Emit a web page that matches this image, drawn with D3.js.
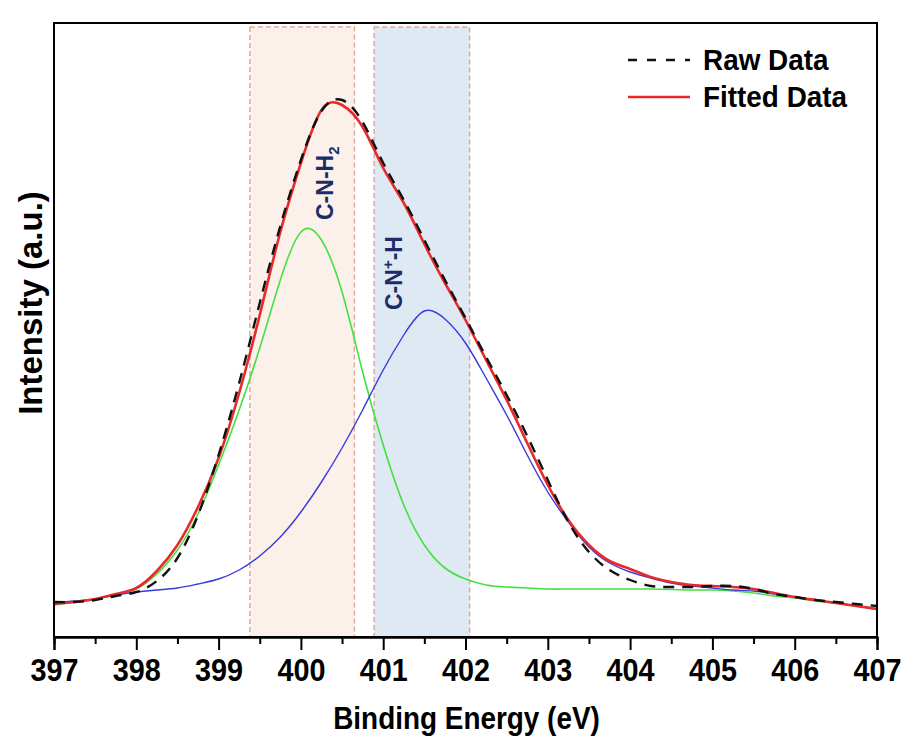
<!DOCTYPE html>
<html>
<head>
<meta charset="utf-8">
<script src="https://cdn.jsdelivr.net/npm/d3@7"></script>
<style>
  html, body { margin: 0; padding: 0; background: #ffffff; }
  svg { display: block; }
  text { font-family: "Liberation Sans", Arial, sans-serif; font-weight: bold; }
</style>
</head>
<body>
<svg id="chart" width="904" height="739"></svg>
<script>
// N 1s spectrum: binding energy grid (eV)
const energy = [
  397.00, 397.25, 397.50, 397.75, 398.00, 398.25, 398.50, 398.75,
  399.00, 399.25, 399.50, 399.75, 400.00, 400.25, 400.50, 400.75,
  401.00, 401.25, 401.50, 401.75, 402.00, 402.25, 402.50, 402.75,
  403.00, 403.25, 403.50, 403.75, 404.00, 404.25, 404.50, 404.75,
  405.00, 405.25, 405.50, 405.75, 406.00, 406.25, 406.50, 406.75, 407.00
];

// Measured intensity (a.u.)
const rawData = [
  700, 700, 740, 820, 900, 1120, 1580, 2440,
  3640, 5080, 6680, 8220, 9540, 10520, 10740, 10300,
  9480, 8740, 7940, 7140, 6380, 5600, 4840, 4020,
  3140, 2300, 1700, 1340, 1140, 1020, 1000, 1000,
  1020, 1020, 960, 860, 800, 740, 700, 660, 620
];

// Envelope of the peak fit (a.u.)
const fittedData = [
  660, 700, 760, 860, 980, 1320, 1840, 2600,
  3580, 4880, 6440, 8100, 9480, 10540, 10640, 10200,
  9380, 8680, 7860, 7080, 6340, 5540, 4740, 3880,
  3040, 2340, 1840, 1520, 1360, 1200, 1100, 1040,
  1020, 1000, 960, 880, 800, 740, 680, 620, 560
];

// C-N-H2 component (a.u.)
const peakNH2 = [
  640, 700, 760, 840, 960, 1260, 1740, 2460,
  3440, 4540, 5780, 7140, 8100, 7940, 6900, 5300,
  3840, 2640, 1840, 1380, 1160, 1040, 1000, 980,
  960, 960, 960, 960, 960, 960, 950, 940,
  940, 920, 880, 820, 780, 720, 680, 620, 560
];

// C-N+-H component (a.u.)
const peakNH = [
  680, 720, 760, 840, 900, 940, 980, 1060,
  1160, 1340, 1620, 2000, 2500, 3100, 3780, 4540,
  5340, 6040, 6520, 6360, 5880, 5180, 4440, 3640,
  2900, 2300, 1800, 1480, 1300, 1180, 1080, 1020,
  980, 940, 920, 860, 800, 740, 680, 620, 560
];

const xTicks = [397, 398, 399, 400, 401, 402, 403, 404, 405, 406, 407];
const xMinorTicks = [397.5, 398.5, 399.5, 400.5, 401.5, 402.5, 403.5, 404.5, 405.5, 406.5];

// Highlighted binding-energy windows
const bandStart = [399.38, 400.89];
const bandEnd = [400.65, 402.05];

const legendLabels = ["Raw Data", "Fitted Data"];

// ---- layout ----
const plot = { left: 54, right: 877, top: 23, bottom: 637 };
const svg = d3.select("#chart");

const x = d3.scaleLinear().domain([397, 407]).range([plot.left, plot.right]);
const y = d3.scaleLinear().domain([0, 12280]).range([plot.bottom, plot.top]);

// shaded windows
const bandFill = ["#fcf0ea", "#dfe9f4"];
svg.append("g").selectAll("rect")
  .data(bandStart.map((s, i) => ({ s, e: bandEnd[i], i })))
  .join("rect")
  .attr("x", d => x(d.s))
  .attr("y", plot.top + 4)
  .attr("width", d => x(d.e) - x(d.s))
  .attr("height", plot.bottom - plot.top - 4)
  .attr("fill", d => bandFill[d.i])
  .attr("stroke", "#e3a898")
  .attr("stroke-width", 1.5)
  .attr("stroke-dasharray", "5,3");

const line = series => d3.line()
  .x((d, i) => x(energy[i]))
  .y(d => y(d))
  .curve(d3.curveNatural)(series);

const curves = svg.append("g");
curves.append("path").attr("d", line(peakNH2))
  .attr("fill", "none").attr("stroke", "#44e040").attr("stroke-width", 1.6);
curves.append("path").attr("d", line(peakNH))
  .attr("fill", "none").attr("stroke", "#3a3ad8").attr("stroke-width", 1.4);
curves.append("path").attr("d", line(fittedData))
  .attr("fill", "none").attr("stroke", "#e82a2a").attr("stroke-width", 2.6);
curves.append("path").attr("d", line(rawData))
  .attr("fill", "none").attr("stroke", "#111111").attr("stroke-width", 2.4)
  .attr("stroke-dasharray", "11,8");

// component labels
const nh2 = svg.append("text")
  .attr("transform", `translate(${x(400.39)},${y(8340)}) rotate(-90)`)
  .attr("fill", "#1b2d68").attr("font-size", 23);
nh2.append("tspan").text("C-N-H");
nh2.append("tspan").attr("font-size", 15).attr("dy", 6).text("2");

const nh = svg.append("text")
  .attr("transform", `translate(${x(401.23)},${y(6540)}) rotate(-90)`)
  .attr("fill", "#1b2d68").attr("font-size", 23);
nh.append("tspan").text("C-N");
nh.append("tspan").attr("font-size", 15).attr("dy", -9).text("+");
nh.append("tspan").attr("dy", 9).text("-H");

// frame
svg.append("rect")
  .attr("x", plot.left).attr("y", plot.top)
  .attr("width", plot.right - plot.left).attr("height", plot.bottom - plot.top)
  .attr("fill", "none").attr("stroke", "#000").attr("stroke-width", 2);

// x axis: major ticks with labels, minor ticks between
const axisMajor = svg.append("g")
  .attr("transform", `translate(0,${plot.bottom})`)
  .call(d3.axisBottom(x).tickValues(xTicks).tickSize(13).tickPadding(8).tickFormat(d3.format("d")));
const axisMinor = svg.append("g")
  .attr("transform", `translate(0,${plot.bottom})`)
  .call(d3.axisBottom(x).tickValues(xMinorTicks).tickSize(7).tickFormat(""));
[axisMajor, axisMinor].forEach(g => {
  g.select(".domain").attr("stroke", "#000").attr("stroke-width", 2);
  g.selectAll(".tick line").attr("stroke", "#000").attr("stroke-width", 2);
});
axisMajor.selectAll(".tick text")
  .attr("fill", "#000")
  .attr("font-size", 32)
  .attr("font-family", "Liberation Sans, Arial, sans-serif")
  .attr("font-weight", "bold")
  .attr("transform", "scale(0.9,1)");

// axis titles
svg.append("text")
  .attr("transform", `translate(${(plot.left + plot.right) / 2 + 1},729) scale(0.9,1)`)
  .attr("text-anchor", "middle").attr("font-size", 31).attr("fill", "#000")
  .text("Binding Energy (eV)");

svg.append("text")
  .attr("transform", `translate(42,303) rotate(-90)`)
  .attr("text-anchor", "middle").attr("font-size", 33).attr("fill", "#000")
  .text("Intensity (a.u.)");

// legend
const legend = svg.append("g");
legendLabels.forEach((label, i) => {
  const ly = 60 + i * 37;
  legend.append("line")
    .attr("x1", 628).attr("x2", 690).attr("y1", ly).attr("y2", ly)
    .attr("stroke", i === 0 ? "#111" : "#e82a2a")
    .attr("stroke-width", i === 0 ? 2.4 : 2.6)
    .attr("stroke-dasharray", i === 0 ? "9,10" : null);
  legend.append("text")
    .attr("transform", `translate(703,${ly + 10}) scale(0.93,1)`)
    .attr("font-size", 30).attr("fill", "#000")
    .text(label);
});
</script>
</body>
</html>
